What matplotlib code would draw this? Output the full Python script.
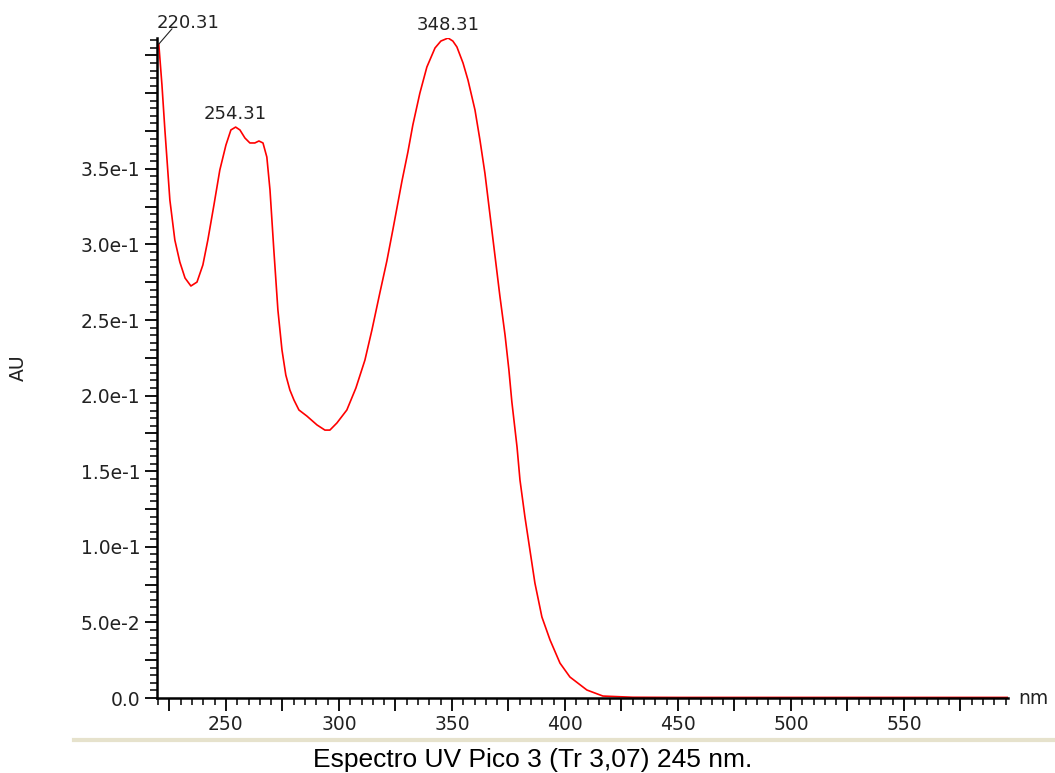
import numpy as np
import matplotlib
matplotlib.use("Agg")
import matplotlib.pyplot as plt
from matplotlib.ticker import MultipleLocator, FuncFormatter
from matplotlib.lines import Line2D

plt.rcParams['font.family'] = ['DejaVu Sans']

# spectrum (wavelength nm, absorbance AU)
wavelength = [220.3, 221.7, 223.0, 225.2, 227.4, 229.6, 231.9, 234.5, 237.2, 239.8,
              242.0, 244.7, 247.3, 250.0, 252.2, 254.3, 256.2, 258.4, 260.6, 262.8,
              264.6, 266.4, 268.1, 269.5, 271.2, 273.0, 274.8, 276.5, 278.3, 280.1,
              282.3, 285.8, 290.3, 293.8, 296.0, 299.1, 303.5, 307.5, 311.5, 314.6,
              318.1, 321.2, 323.9, 327.9, 330.5, 332.7, 335.8, 338.9, 342.5, 345.1,
              348.3, 350.4, 352.2, 354.9, 357.1, 360.2, 362.4, 364.6, 366.8, 369.0,
              371.2, 373.5, 375.2, 376.5, 378.8, 380.1, 382.3, 384.5, 386.7, 389.8,
              393.4, 397.8, 402.2, 409.7, 416.8, 430.0, 450.0, 500.0, 596.0]
absorbance = [0.4325, 0.4054, 0.3757, 0.3294, 0.3029, 0.2884, 0.2778, 0.2725, 0.2751, 0.2864,
              0.3029, 0.3261, 0.3492, 0.3657, 0.3757, 0.3776, 0.3757, 0.3704, 0.3671, 0.3671,
              0.3684, 0.3671, 0.3578, 0.3360, 0.2963, 0.2566, 0.2302, 0.2136, 0.2037, 0.1971,
              0.1905, 0.1865, 0.1806, 0.1772, 0.1772, 0.1819, 0.1905, 0.2050, 0.2235, 0.2434,
              0.2679, 0.2890, 0.3100, 0.3420, 0.3610, 0.3790, 0.4000, 0.4173, 0.4299, 0.4345,
              0.4365, 0.4345, 0.4306, 0.4200, 0.4087, 0.3889, 0.3690, 0.3470, 0.3200, 0.2930,
              0.2660, 0.2400, 0.2170, 0.1960, 0.1660, 0.1442, 0.1197, 0.0979, 0.0761, 0.0536,
              0.0384, 0.0231, 0.0139, 0.0053, 0.0013, 0.0005, 0.0004, 0.0004, 0.0004]

peak_nm = [220.31, 254.31, 348.31]
peak_au = [0.4325, 0.3776, 0.4365]

title = "Espectro UV Pico 3 (Tr 3,07) 245 nm."

fig = plt.figure(figsize=(10.55, 7.73), dpi=100)
ax = fig.add_axes([0.1488, 0.0970, 0.8066, 0.8538])

ax.plot(wavelength, absorbance, color='#ff0000', lw=1.2)
ax.set_xlim(219.5, 596)
ax.set_ylim(0, 0.4365)

for s in ['top', 'right']:
    ax.spines[s].set_visible(False)
for s in ['left', 'bottom']:
    ax.spines[s].set_linewidth(1.8)
    ax.spines[s].set_color('black')


def xfmt(v, pos):
    return "%d" % round(v) if round(v) % 50 == 0 else ""


def yfmt(v, pos):
    k = int(round(v / 0.025))
    if k % 2 or k > 14:
        return ""
    if k == 0:
        return "0.0"
    m, e = ("%.1e" % v).split("e")
    return "%se%d" % (m, int(e))


ax.xaxis.set_major_locator(MultipleLocator(25))
ax.xaxis.set_minor_locator(MultipleLocator(5))
ax.xaxis.set_major_formatter(FuncFormatter(xfmt))
ax.yaxis.set_major_locator(MultipleLocator(0.025))
ax.yaxis.set_minor_locator(MultipleLocator(0.005))
ax.yaxis.set_major_formatter(FuncFormatter(yfmt))
ax.tick_params(which='major', direction='out', length=9, width=1.3, labelsize=13.5, colors='black', pad=3)
ax.tick_params(which='minor', direction='out', length=5, width=1.1)
for t in ax.get_xticklabels() + ax.get_yticklabels():
    t.set_color('#222222')

ax.set_ylabel("AU", fontsize=13.5, labelpad=38, color='#222222')
ax.text(1.012, 0.0, "nm", transform=ax.transAxes, fontsize=13.5, va='center', ha='left',
        color='#222222')

# peak labels
ax.annotate("", xy=(peak_nm[0], peak_au[0]), xytext=(9.5, 11), textcoords='offset points',
            arrowprops=dict(arrowstyle='-', color='#222222', lw=0.8, shrinkA=0, shrinkB=0))
ax.annotate("%.2f" % peak_nm[0], xy=(peak_nm[0], peak_au[0]), xytext=(21, 9),
            textcoords='offset points', fontsize=13, ha='center', va='bottom', color='#222222')
for nm, au in zip(peak_nm[1:], peak_au[1:]):
    ax.annotate("%.2f" % nm, xy=(nm, au), xytext=(0, 3), textcoords='offset points',
                fontsize=13, ha='center', va='bottom', color='#222222')

# separator line and bottom caption
fig.add_artist(Line2D([0.07, 1.0], [0.043, 0.043], transform=fig.transFigure,
                      color='#e6e2cc', lw=3))
fig.text(0.505, 0.017, title, fontsize=19, ha='center', va='center', family='Liberation Sans')

fig.savefig("out.png", dpi=100)
